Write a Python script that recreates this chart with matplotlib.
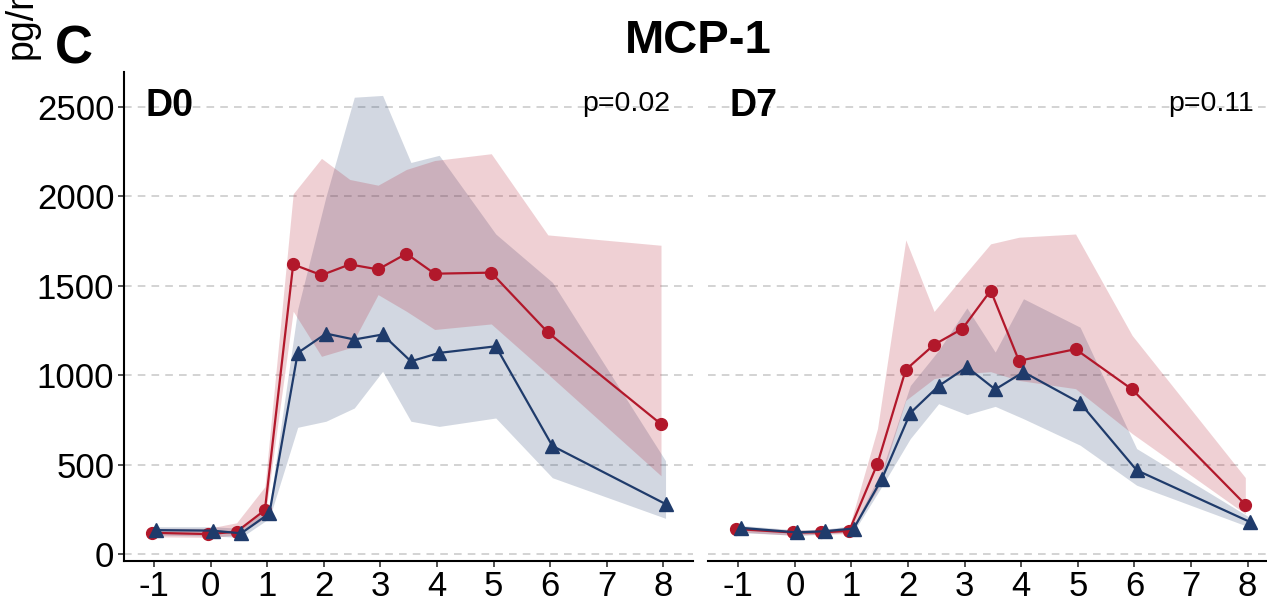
import numpy as np
import matplotlib
matplotlib.use("Agg")
import matplotlib.pyplot as plt

plt.rcParams['font.family'] = ['Liberation Sans', 'DejaVu Sans']

# time points (days)
time = np.array([-1, 0, 0.5, 1, 1.5, 2, 2.5, 3, 3.5, 4, 5, 6, 8])
ticks = [-1, 0, 1, 2, 3, 4, 5, 6, 7, 8]

# D0 panel
d0_red = [119, 112, 125, 246, 1620, 1560, 1620, 1592, 1680, 1568, 1574, 1240, 727]
d0_red_hi = [144, 144, 175, 377, 2015, 2213, 2095, 2063, 2151, 2201, 2239, 1785, 1727]
d0_red_lo = [97, 93, 106, 200, 1358, 1106, 1153, 1451, 1358, 1256, 1287, 1007, 438]
d0_blue = [134, 131, 116, 228, 1125, 1233, 1200, 1228, 1078, 1125, 1162, 605, 280]
d0_blue_hi = [153, 153, 144, 265, 1370, 2000, 2555, 2565, 2190, 2230, 1790, 1520, 522]
d0_blue_lo = [106, 101, 93, 200, 709, 743, 817, 1022, 743, 714, 761, 427, 200]

# D7 panel
d7_red = [140, 121, 121, 130, 506, 1031, 1171, 1260, 1474, 1081, 1146, 921, 277]
d7_red_hi = [150, 135, 135, 150, 702, 1757, 1357, 1548, 1735, 1772, 1790, 1223, 428]
d7_red_lo = [125, 105, 110, 115, 360, 860, 981, 1009, 1020, 971, 925, 674, 225]
d7_blue = [147, 121, 128, 143, 422, 789, 940, 1046, 921, 1018, 845, 469, 180]
d7_blue_hi = [160, 135, 140, 160, 470, 943, 1139, 1377, 1130, 1428, 1269, 590, 205]
d7_blue_lo = [120, 105, 112, 125, 380, 646, 841, 780, 826, 757, 609, 385, 150]

panels = [("D0", "p=0.02", d0_red, d0_red_lo, d0_red_hi, d0_blue, d0_blue_lo, d0_blue_hi),
          ("D7", "p=0.11", d7_red, d7_red_lo, d7_red_hi, d7_blue, d7_blue_lo, d7_blue_hi)]

RED = '#B2182B'
NAVY = '#1F3B6B'
dodge = 0.04

W, H = 1267, 605
fig = plt.figure(figsize=(W/100, H/100), dpi=100)
ax_w = 568.7/W
ax_h = (560.7-72)/H
ax_b = (H-560.7)/H
axes = [fig.add_axes([124/W, ax_b, ax_w, ax_h]),
        fig.add_axes([708.3/W, ax_b, ax_w, ax_h])]

for i, (ax, p) in enumerate(zip(axes, panels)):
    lab, pval, r, rlo, rhi, b, blo, bhi = p
    for y in range(0, 2501, 500):
        ax.axhline(y, color='#C8C8C8', lw=1.1, ls=(0, (5, 4)), zorder=0)
    ax.fill_between(time+dodge, blo, bhi, color=NAVY, alpha=0.2, lw=0, zorder=1)
    ax.fill_between(time-dodge, rlo, rhi, color=RED, alpha=0.2, lw=0, zorder=1)
    ax.plot(time-dodge, r, color=RED, lw=1.6, marker='o', ms=8.5, zorder=3)
    ax.plot(time+dodge, b, color=NAVY, lw=1.6, marker='^', ms=10.5, zorder=4)

    ax.set_xlim(-1.53, 8.52)
    ax.set_ylim(-37, 2696)
    ax.set_xticks(ticks)
    ax.set_xticklabels([str(t) for t in ticks])
    ax.set_yticks(range(0, 2501, 500))
    ax.tick_params(axis='both', labelsize=25, length=4, width=1.2, pad=3, color='#333333')
    for s in ['top', 'right']:
        ax.spines[s].set_visible(False)
    ax.spines['bottom'].set_linewidth(1.5)
    ax.spines['left'].set_linewidth(1.5)
    if i == 1:
        ax.spines['left'].set_visible(False)
        ax.tick_params(axis='y', left=False, labelleft=False)

    ax.text(0.037, 0.93, lab, transform=ax.transAxes, fontsize=27, fontweight='bold',
            ha='left', va='center')
    ax.text(0.96, 0.935, pval, transform=ax.transAxes, fontsize=20.5,
            ha='right', va='center')

fig.text(698.7/W, 1-53/H, "MCP-1", fontsize=34, fontweight='bold', ha='center', va='baseline')
fig.text(55/W, 1-64/H, "C", fontsize=38, fontweight='bold', ha='left', va='baseline')
# y label sits partly above the figure edge, as in the reference
fig.text(22/W, 1-59/H, "pg/mL", fontsize=27, rotation=90, ha='center', va='bottom')

fig.savefig("out.png", dpi=100)
